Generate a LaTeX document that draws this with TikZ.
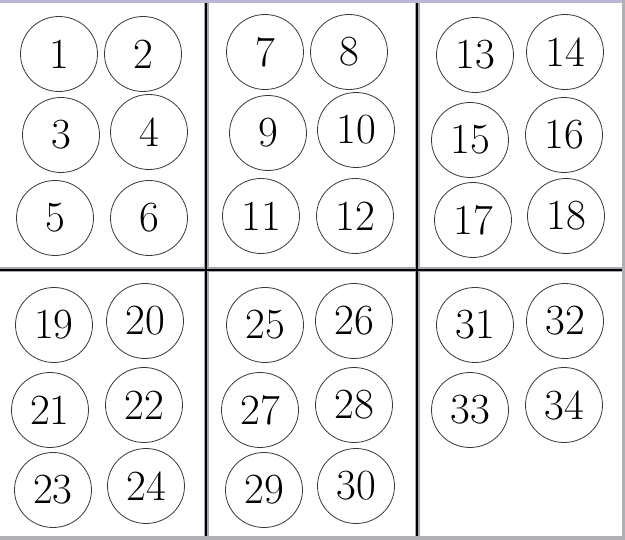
\documentclass[tikz,border=0pt]{standalone}
\usepackage{tikz}
\usetikzlibrary{shapes.geometric}
\definecolor{sepgray}{HTML}{A8A8B4}
\definecolor{topband}{HTML}{B8B8D4}
\definecolor{edgegray}{HTML}{B0B0B4}
\definecolor{ringgray}{HTML}{383838}
\tikzset{
  numcirc/.style={ellipse, draw=ringgray, line width=0.8pt, minimum width=77pt, minimum height=75pt, inner sep=0pt, font=\fontsize{43}{43}\selectfont, text=black},
  sepback/.style={draw=sepgray, line width=5pt},
  sepfront/.style={draw=black, line width=2.8pt},
}
\begin{document}
\begin{tikzpicture}[x=1pt,y=-1pt]
\useasboundingbox (0,0) rectangle (625,540);
\fill[white] (0,0) rectangle (625,540);
% outer edges
\fill[topband] (0,0) rectangle (625,3.5);
\fill[edgegray] (0,536.5) rectangle (625,540);
\fill[edgegray] (622,0) rectangle (625,540);
% separators
\coordinate (hl) at (0,270);
\coordinate (hr) at (622,270);
\coordinate (v1t) at (206,3.5);
\coordinate (v1b) at (206,536.5);
\coordinate (v2t) at (417,3.5);
\coordinate (v2b) at (417,536.5);
\draw[sepback] (hl) -- (hr);
\draw[sepback] (v1t) -- (v1b);
\draw[sepback] (v2t) -- (v2b);
\draw[sepfront] (hl) -- (hr);
\draw[sepfront] (v1t) -- (v1b);
\draw[sepfront] (v2t) -- (v2b);
% panel 1
\node[numcirc] (c1) at (59,54) {1};
\node[numcirc] (c2) at (143,54) {2};
\node[numcirc] (c3) at (61,135) {3};
\node[numcirc] (c4) at (149,132) {4};
\node[numcirc] (c5) at (55,218) {5};
\node[numcirc] (c6) at (149,218) {6};
% panel 2
\node[numcirc] (c7) at (265,52) {7};
\node[numcirc] (c8) at (349,52) {8};
\node[numcirc] (c9) at (268,133) {9};
\node[numcirc] (c10) at (356,130) {10};
\node[numcirc] (c11) at (261,216) {11};
\node[numcirc] (c12) at (355,216) {12};
% panel 3
\node[numcirc] (c13) at (475,55) {13};
\node[numcirc] (c14) at (565,52) {14};
\node[numcirc] (c15) at (470,140) {15};
\node[numcirc] (c16) at (564,135) {16};
\node[numcirc] (c17) at (473,220) {17};
\node[numcirc] (c18) at (566,216) {18};
% panel 4
\node[numcirc] (c19) at (54,325) {19};
\node[numcirc] (c20) at (145,321) {20};
\node[numcirc] (c21) at (50,410) {21};
\node[numcirc] (c22) at (144,405) {22};
\node[numcirc] (c23) at (53,490) {23};
\node[numcirc] (c24) at (146,486) {24};
% panel 5
\node[numcirc] (c25) at (265,325) {25};
\node[numcirc] (c26) at (354,321) {26};
\node[numcirc] (c27) at (260,410) {27};
\node[numcirc] (c28) at (354,405) {28};
\node[numcirc] (c29) at (264,490) {29};
\node[numcirc] (c30) at (356,486) {30};
% panel 6
\node[numcirc] (c31) at (475,325) {31};
\node[numcirc] (c32) at (565,321) {32};
\node[numcirc] (c33) at (470,410) {33};
\node[numcirc] (c34) at (564,405) {34};
\end{tikzpicture}
\end{document}
